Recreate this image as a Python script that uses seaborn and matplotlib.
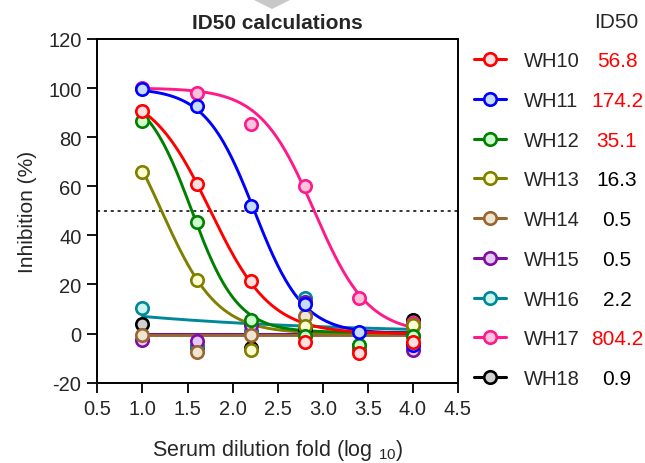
import numpy as np
import pandas as pd
import matplotlib
matplotlib.use("Agg")
import matplotlib.pyplot as plt
from matplotlib.lines import Line2D
from matplotlib.patches import Polygon
import seaborn as sns

# -----------------------------
# Data
# -----------------------------
samples = ["WH10", "WH11", "WH12", "WH13", "WH14", "WH15", "WH16", "WH17", "WH18"]
id50 = ["56.8", "174.2", "35.1", "16.3", "0.5", "0.5", "2.2", "804.2", "0.9"]
id50_red = [True, True, True, False, False, False, False, True, False]

dilution_log = [1.0, 1.6, 2.2, 2.8, 3.4, 4.0]

inhibition = {
    "WH10": [90.5, 60.8, 21.5, -3.5, -8.0, -3.5],
    "WH11": [99.5, 92.5, 52.0, 12.0, 0.5, -4.5],
    "WH12": [86.5, 45.5, 5.5, -1.0, -4.5, -1.0],
    "WH13": [66.0, 22.0, -6.5, 3.0, -5.0, 3.5],
    "WH14": [-0.5, -7.5, -0.5, 7.0, -5.0, 3.0],
    "WH15": [-2.5, -3.0, 3.5, 13.0, -5.5, -6.5],
    "WH16": [10.5, -5.0, 1.0, 14.5, -6.0, -1.0],
    "WH17": [100.0, 98.0, 85.5, 60.0, 14.5, 4.5],
    "WH18": [4.0, -5.5, -6.0, 2.0, -6.0, 5.5],
}

# fitted 4PL curve parameters (top, bottom, logIC50, hill)
fit_top = [100, 100, 100, 100, -0.4, -0.2, 100, 100, -0.3]
fit_bottom = [0.0, 0.0, 0.5, 0.0, -0.4, -0.2, 0.0, 0.0, -0.3]
fit_logic50 = [1.754, 2.241, 1.545, 1.212, 0.0, 0.0, -4.35, 2.905, 0.0]
fit_hill = [1.3, 1.6, 1.7, 1.4, 1.0, 1.0, 0.21, 1.45, 1.0]

line_colors = ["#FF0000", "#0000FF", "#008000", "#808000", "#996633",
               "#7F0FA0", "#00889A", "#FF1A8C", "#000000"]
face_colors = ["#FFE0E0", "#C8DCFF", "#CCFFCC", "#FFFFD2", "#EEE6D0",
               "#E6C8F5", "#CCF5EE", "#FFC2DC", "#D0D0D0"]

# -----------------------------
# Build tables
# -----------------------------
pts = pd.DataFrame([(s, x, v) for s in samples
                    for x, v in zip(dilution_log, inhibition[s])],
                   columns=["Sample", "Dilution", "Inhibition"])

xs = np.linspace(dilution_log[0], dilution_log[-1], 200)
rows = []
for i, s in enumerate(samples):
    yfit = fit_bottom[i] + (fit_top[i] - fit_bottom[i]) / (1 + 10 ** ((xs - fit_logic50[i]) * fit_hill[i]))
    rows += [(s, x, y) for x, y in zip(xs, yfit)]
curves = pd.DataFrame(rows, columns=["Sample", "Dilution", "Inhibition"])

# -----------------------------
# Plot
# -----------------------------
sns.set_style("ticks")
plt.rcParams["font.family"] = ["Liberation Sans", "DejaVu Sans"]
plt.rcParams["axes.unicode_minus"] = False

fig = plt.figure(figsize=(6.45, 4.64), dpi=100)
ax = fig.add_axes([0.151, 0.173, 0.559, 0.741])

# later series first so WH10 ends up on top
for i in reversed(range(len(samples))):
    s = samples[i]
    sns.lineplot(data=curves[curves.Sample == s], x="Dilution", y="Inhibition",
                 color=line_colors[i], linewidth=2.1, ax=ax, zorder=2)
    sns.scatterplot(data=pts[pts.Sample == s], x="Dilution", y="Inhibition",
                    color=face_colors[i], edgecolor=line_colors[i], linewidth=1.9,
                    s=80, ax=ax, zorder=3, legend=False)

ax.axhline(50, color="black", linestyle=(0, (2, 2.5)), linewidth=1.1, zorder=1)

ax.set_xlim(0.5, 4.5)
ax.set_ylim(-20, 120)
ax.set_xticks(np.arange(0.5, 4.51, 0.5))
ax.set_yticks(np.arange(-20, 121, 20))
ax.set_xticklabels([f"{v:.1f}" for v in np.arange(0.5, 4.51, 0.5)])
ax.tick_params(labelsize=14.5, length=7.5, width=1.3, color="black", pad=4)
for sp in ax.spines.values():
    sp.set_linewidth(1.4)
    sp.set_color("black")

ax.set_xlabel(r"Serum dilution fold (log $_{\mathregular{10}}$)", fontsize=15.5, labelpad=14)
ax.set_ylabel("Inhibition (%)", fontsize=15, labelpad=8)
ax.set_title("ID50 calculations", fontsize=15, fontweight="bold", pad=8)

handles = [Line2D([0], [0], color=line_colors[i], linewidth=2.2, marker="o",
                  markersize=9, markerfacecolor=face_colors[i],
                  markeredgecolor=line_colors[i], markeredgewidth=1.9)
           for i in range(len(samples))]
leg = fig.legend(handles, samples, loc="upper left", bbox_to_anchor=(0.7225, 0.905),
                 frameon=False, fontsize=14.5, handlelength=1.6, handletextpad=0.85,
                 labelspacing=1.03, borderaxespad=0)

fig.canvas.draw()
renderer = fig.canvas.get_renderer()
fig.text(616 / 645, 1 - 22 / 464, "ID50", fontsize=15, ha="center", va="center")
for t, val, red in zip(leg.get_texts(), id50, id50_red):
    bb = t.get_window_extent(renderer)
    yc = (bb.y0 + bb.y1) / 2 / fig.bbox.height
    fig.text(617 / 645, yc, val, fontsize=15, ha="center", va="center",
             color="#FF0000" if red else "black")

# grey marker cut at the top of the screenshot
fig.patches.append(Polygon([[252 / 645, 1.0], [292 / 645, 1.0], [272 / 645, 1 - 10 / 464]],
                           closed=True, transform=fig.transFigure, facecolor="#C8C8C8",
                           edgecolor="none"))

fig.savefig("out.png", dpi=100)
